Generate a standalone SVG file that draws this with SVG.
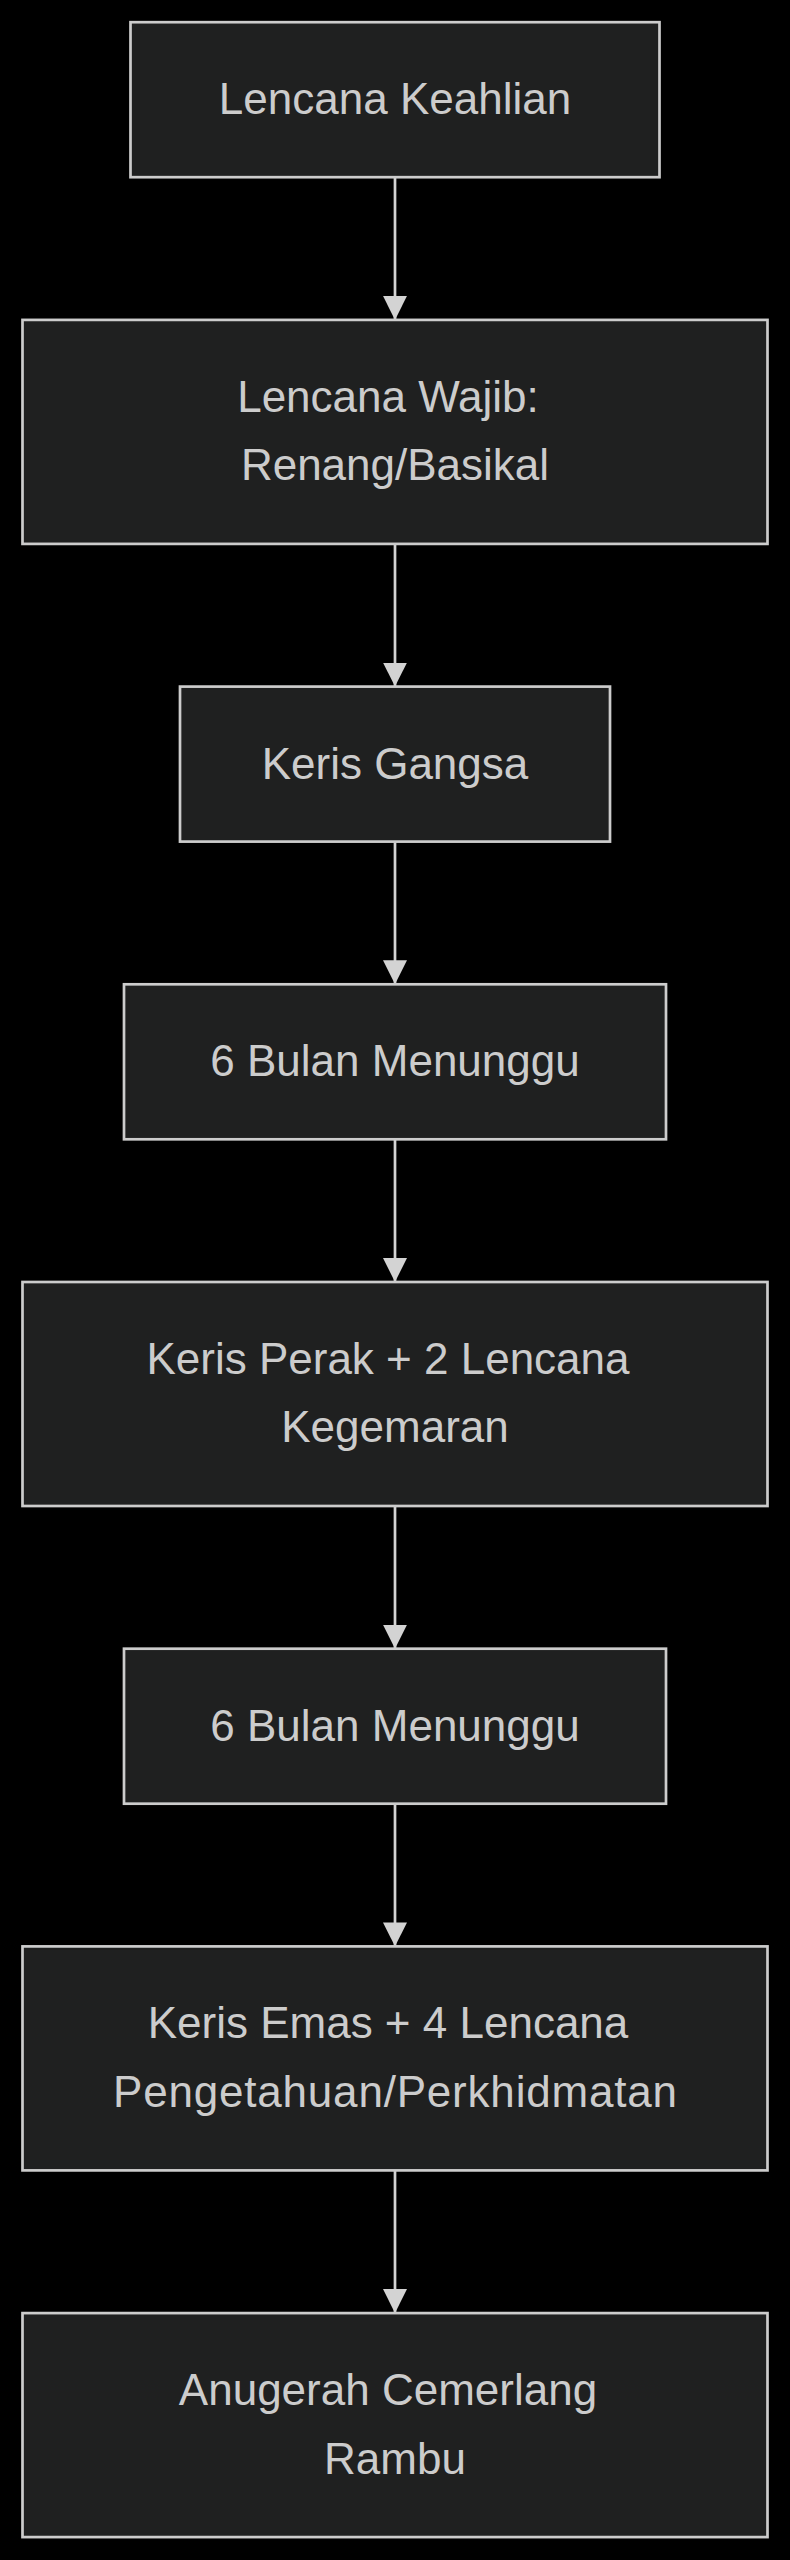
<svg xmlns="http://www.w3.org/2000/svg" width="790" height="2560" viewBox="0 0 790 2560">
<defs>
<style>
.node rect{fill:#1f2020;stroke:#cccccc;stroke-width:2.7}
.node text{font-family:"Liberation Sans",Arial,sans-serif;font-size:44px;fill:#cccccc;text-anchor:middle}
.edge{stroke:#d3d3d3;stroke-width:2.7;fill:none}
</style>
<marker id="arrow" viewBox="0 0 24 24" markerWidth="24" markerHeight="24" refX="24" refY="12" markerUnits="userSpaceOnUse" orient="auto">
<path d="M0,0 L24,12 L0,24 z" fill="#d3d3d3"/>
</marker>
</defs>
<rect x="0" y="0" width="790" height="2560" fill="#000000"/>
<g id="connectors">
<line class="edge" x1="395" y1="177.2" x2="395" y2="319.9" marker-end="url(#arrow)"/>
<line class="edge" x1="395" y1="543.9" x2="395" y2="686.6" marker-end="url(#arrow)"/>
<line class="edge" x1="395" y1="841.6" x2="395" y2="984.3" marker-end="url(#arrow)"/>
<line class="edge" x1="395" y1="1139.3" x2="395" y2="1282" marker-end="url(#arrow)"/>
<line class="edge" x1="395" y1="1506" x2="395" y2="1648.7" marker-end="url(#arrow)"/>
<line class="edge" x1="395" y1="1803.7" x2="395" y2="1946.4" marker-end="url(#arrow)"/>
<line class="edge" x1="395" y1="2170.4" x2="395" y2="2313.1" marker-end="url(#arrow)"/>
</g>
<g id="node1" class="node">
<rect x="130.5" y="22.2" width="529" height="155"/>
<text x="395" y="114.3">Lencana Keahlian</text>
</g>
<g id="node2" class="node">
<rect x="22.5" y="319.9" width="745" height="224"/>
<text x="388" y="411.9">Lencana Wajib:</text>
<text x="395" y="480.3">Renang/Basikal</text>
</g>
<g id="node3" class="node">
<rect x="180" y="686.6" width="430" height="155"/>
<text x="395" y="778.7">Keris Gangsa</text>
</g>
<g id="node4" class="node">
<rect x="124" y="984.3" width="542" height="155"/>
<text x="395" y="1076.4">6 Bulan Menunggu</text>
</g>
<g id="node5" class="node">
<rect x="22.5" y="1282" width="745" height="224"/>
<text x="388" y="1374">Keris Perak + 2 Lencana</text>
<text x="395" y="1442.4">Kegemaran</text>
</g>
<g id="node6" class="node">
<rect x="124" y="1648.7" width="542" height="155"/>
<text x="395" y="1740.8">6 Bulan Menunggu</text>
</g>
<g id="node7" class="node">
<rect x="22.5" y="1946.4" width="745" height="224"/>
<text x="388" y="2038.4">Keris Emas + 4 Lencana</text>
<text x="395" y="2106.8" textLength="564" lengthAdjust="spacing">Pengetahuan/Perkhidmatan</text>
</g>
<g id="node8" class="node">
<rect x="22.5" y="2313.1" width="745" height="224"/>
<text x="388" y="2405.1">Anugerah Cemerlang</text>
<text x="395" y="2473.5">Rambu</text>
</g>
</svg>
